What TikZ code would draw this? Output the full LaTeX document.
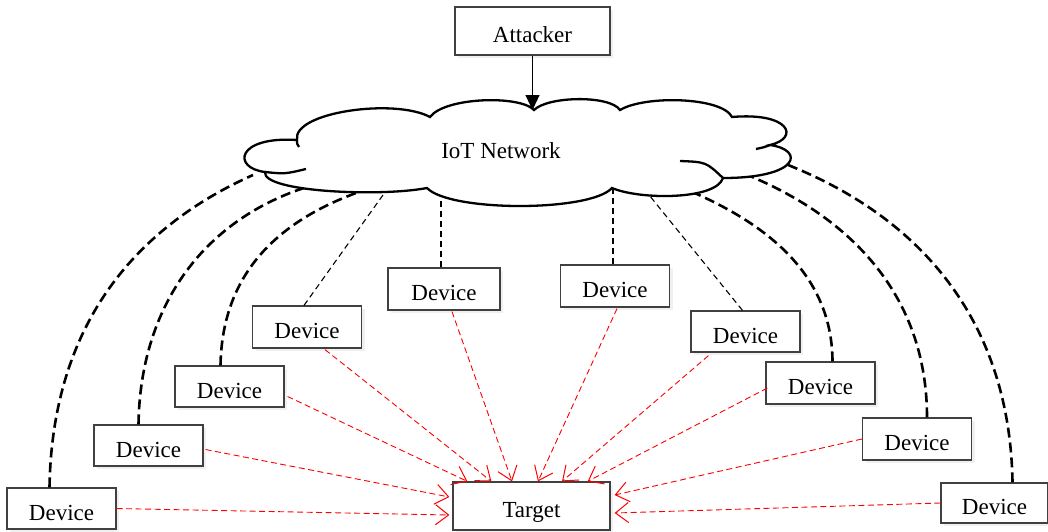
\documentclass[tikz,border=0pt]{standalone}
\usepackage{fontspec}
\setmainfont{Liberation Serif}
\usetikzlibrary{arrows.meta,calc,shadows}
\begin{document}
\begin{tikzpicture}[x=1pt,y=-1pt,
  box/.style={draw=black!75, line width=1.2pt, fill=white, minimum height=42pt,
    minimum width=109pt, inner sep=0pt, font=\fontsize{23}{26}\selectfont,
    text height=23pt, text depth=0pt,
    drop shadow={opacity=0.12, shadow xshift=3pt, shadow yshift=-3pt}},
  thicklink/.style={draw=black, line width=2.6pt, dash pattern=on 10pt off 5pt},
  thinlink/.style={draw=black, line width=1.1pt, dash pattern=on 6pt off 4pt},
  attack/.style={draw=red, line width=0.9pt, dash pattern=on 6pt off 3.5pt,
    -{Straight Barb[length=13pt,width=20pt,line width=1pt]}},
  cloudline/.style={draw=black, line width=2.3pt},
]
\useasboundingbox (0,0) rectangle (1048,531);

% nodes
\node[box, minimum width=155pt, minimum height=48pt] (A) at (532.5,31) {Attacker};
\node[box, minimum width=157pt, minimum height=48pt] (T) at (531.5,506) {Target};
\node[box, minimum height=41pt] (L1) at (61.5,508.5) {Device};
\node[box, minimum height=41pt] (L2) at (148.5,445.5) {Device};
\node[box, minimum height=41pt] (L3) at (229.5,386.5) {Device};
\node[box] (L4) at (307,327) {Device};
\node[box, minimum width=112pt] (L5) at (444,289) {Device};
\node[box] (R5) at (615,286) {Device};
\node[box, minimum height=41pt] (R4) at (745.5,331.5) {Device};
\node[box] (R3) at (820.5,383) {Device};
\node[box] (R2) at (917,439) {Device};
\node[box, minimum width=107pt, minimum height=40pt] (R1) at (994.5,503) {Device};

% cloud attachment points
\coordinate (cL1) at (253,175);
\coordinate (cL2) at (310,186);
\coordinate (cL3) at (356,193);
\coordinate (cL4) at (383,195);
\coordinate (cL5) at (441,200);
\coordinate (cR5) at (613,189);
\coordinate (cR4) at (645,190);
\coordinate (cR3) at (683,188);
\coordinate (cR2) at (740,172);
\coordinate (cR1) at (783,163);
\coordinate (cTop) at (534,110);

% thick dashed links
\draw[thicklink] ($(L1.north)+(-12,0)$) .. controls (52,330) and (130,230) .. (cL1);
\draw[thicklink] ($(L2.north)+(-10,0)$) .. controls (140,310) and (200,220) .. (cL2);
\draw[thicklink] ($(L3.north)+(-9,0)$) .. controls (222,280) and (270,225) .. (cL3);
\draw[thicklink] ($(R3.north)+(12,0)$) .. controls (832,270) and (760,220) .. (cR3);
\draw[thicklink] ($(R2.north)+(10,0)$) .. controls (927,295) and (850,215) .. (cR2);
\draw[thicklink] ($(R1.north)+(18,0)$) .. controls (1010,330) and (930,220) .. (cR1);

% thin dashed links
\draw[thinlink] ($(L4.north)+(-3,0)$) -- (cL4);
\draw[thinlink] ($(L5.north)+(-3,0)$) -- (cL5);
\draw[thinlink] ($(R5.north)+(-2,0)$) -- (cR5);
\draw[thinlink] ($(R4.north)+(-3,0)$) -- (cR4);

% cloud
\path[cloudline, fill=white]
  (265,172) .. controls (232,168) and (236,136) .. (297,140)
  .. controls (292,112) and (395,98) .. (430,117)
  .. controls (445,97) and (520,95) .. (534,110)
  .. controls (548,96) and (610,95) .. (620,110)
  .. controls (645,95) and (722,97) .. (732,117)
  .. controls (790,112) and (800,138) .. (770,145)
  .. controls (805,150) and (800,178) .. (723,178)
  .. controls (716,200) and (640,200) .. (612,188)
  .. controls (590,212) and (450,212) .. (427,188)
  .. controls (380,197) and (262,192) .. cycle;
\draw[cloudline] (265,172) .. controls (285,174) .. (306,169);
\draw[cloudline] (680,161) .. controls (706,162) .. (723,178);
\draw[cloudline] (770,145) .. controls (765,147) .. (756,149);
\draw[cloudline] (297,140) .. controls (297,144) .. (299,147);
\node[font=\fontsize{23}{26}\selectfont] (N) at (501,151) {IoT Network};

% attacker arrow
\draw[line width=1.2pt, -{Triangle[length=15pt,width=14pt]}] (A.south) -- (A.south |- cTop);

% attack traffic
\draw[attack] (L1.east) -- ($(T.west)+(-3,9)$);
\draw[attack] ($(L2.east)+(2,4)$) -- ($(T.west)+(-3,-9)$);
\draw[attack] ($(L3.east)+(3,10)$) -- ($(T.north west)+(15,0)$);
\draw[attack] ($(L4.south)+(18,1)$) -- ($(T.north west)+(39,0)$);
\draw[attack] ($(L5.south)+(8,1)$) -- ($(T.north)+(-19.5,0)$);
\draw[attack] ($(R5.south)+(2,1)$) -- ($(T.north)+(6.5,0)$);
\draw[attack] ($(R4.south)+(-37,3)$) -- ($(T.north)+(30.5,0)$);
\draw[attack] ($(R3.west)+(2,5)$) -- ($(T.north east)+(-23,0)$);
\draw[attack] (R2.west) -- ($(T.east)+(4,-11)$);
\draw[attack] (R1.west) -- ($(T.east)+(4,7)$);
\end{tikzpicture}
\end{document}
